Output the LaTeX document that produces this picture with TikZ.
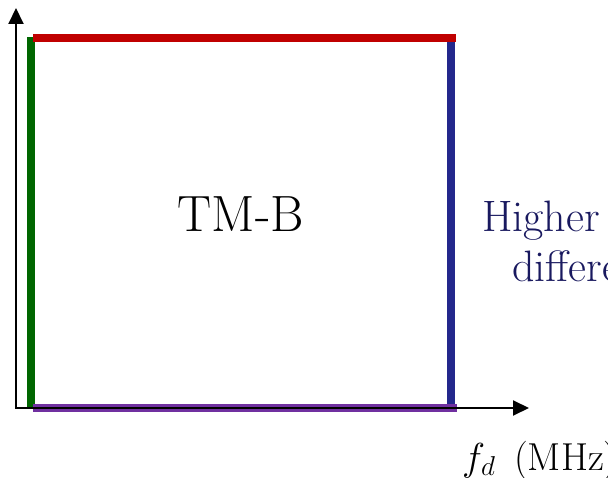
\RequirePackage{fix-cm}
\documentclass[tikz,border=0pt]{standalone}
\usepackage{fontspec}
\usetikzlibrary{arrows.meta}
\definecolor{barred}{RGB}{192,0,0}
\definecolor{bargreen}{RGB}{0,102,0}
\definecolor{barblue}{RGB}{35,40,140}
\definecolor{barpurple}{RGB}{112,48,160}
\definecolor{textnavy}{RGB}{25,25,95}
\begin{document}
\begin{tikzpicture}[x=1pt,y=-1pt,
  axis/.style={black,line width=2pt,{Triangle[length=16pt,width=15pt]}-{Triangle[length=16pt,width=15pt]}},
  label/.style={inner sep=0pt,anchor=base west}]
  \useasboundingbox (0,0) rectangle (608,478);
  \fill[bargreen] (27,37) rectangle (35,407);
  \fill[barred] (33,34) rectangle (456,42);
  \fill[barblue] (447,42) rectangle (455,405);
  \fill[barpurple] (33,404) rectangle (457,412);
  \coordinate (ytip) at (16,8);
  \coordinate (xtip) at (529,408);
  \draw[axis] (ytip) |- (xtip);
  \node[inner sep=0pt,anchor=base] (tmb) at (241,232) {\fontsize{51}{60}\selectfont TM-B};
  \node[label,text=textnavy] (higher) at (482,232) {\fontsize{44}{52}\selectfont Higher};
  \node[label,text=textnavy] (differ) at (512,282) {\fontsize{44}{52}\selectfont differe};
  \node[label] (fd) at (462,470) {\fontsize{39}{46}\selectfont $f_d$\hspace{0.48em}(MHz)};
\end{tikzpicture}
\end{document}
